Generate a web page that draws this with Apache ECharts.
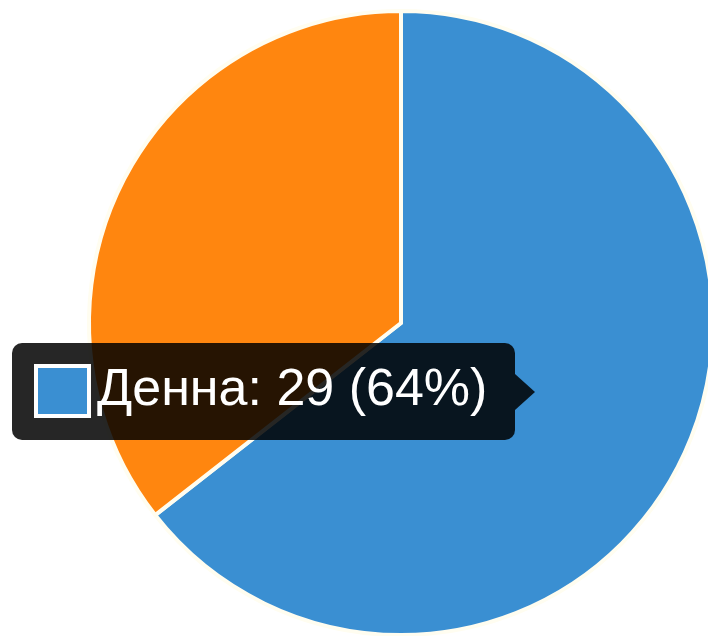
<!DOCTYPE html>
<html>
<head>
<meta charset="utf-8">
<script src="https://cdn.jsdelivr.net/npm/echarts@6/dist/echarts.min.js"></script>
<style>
html,body{margin:0;padding:0;background:#fff;}
#chart{width:708px;height:636px;}
</style>
</head>
<body>
<div id="chart"></div>
<script>
const categories = ['Денна', 'Заочна'];
const values = [29, 16];
const colors = ['#3a8fd2', '#ff860f'];
const tipIndex = 0;

const total = values.reduce((a, b) => a + b, 0);
const pct = Math.round(values[tipIndex] / total * 100);
const tipText = categories[tipIndex] + ': ' + values[tipIndex] + ' (' + pct + '%)';

const chart = echarts.init(document.getElementById('chart'), null, {renderer: 'canvas'});
chart.setOption({
  animation: false,
  backgroundColor: '#ffffff',
  series: [{
    type: 'pie',
    z: 1,
    center: [401, 323],
    radius: [0, 312],
    startAngle: 90,
    clockwise: true,
    label: {show: false},
    labelLine: {show: false},
    emphasis: {disabled: true},
    itemStyle: {borderColor: '#fffdf0', borderWidth: 4},
    data: categories.map((c, i) => ({name: c, value: values[i], itemStyle: {color: colors[i]}}))
  }],
  graphic: [
    {type: 'rect', z: 100, zlevel: 1, shape: {x: 12, y: 343, width: 503, height: 97, r: 10}, style: {fill: 'rgba(0,0,0,0.85)'}},
    {type: 'polygon', z: 100, zlevel: 1, shape: {points: [[515, 374], [535, 392], [515, 410]]}, style: {fill: 'rgba(0,0,0,0.85)'}},
    {type: 'rect', z: 101, zlevel: 1, shape: {x: 36, y: 366, width: 53, height: 50}, style: {fill: colors[tipIndex], stroke: '#ffffff', lineWidth: 4}},
    {type: 'text', z: 101, zlevel: 1, style: {text: tipText, x: 97, y: 391, verticalAlign: 'middle', align: 'left', fill: '#ffffff', font: 'normal 52px "Liberation Sans", Arial, sans-serif'}}
  ]
});
</script>
</body>
</html>
